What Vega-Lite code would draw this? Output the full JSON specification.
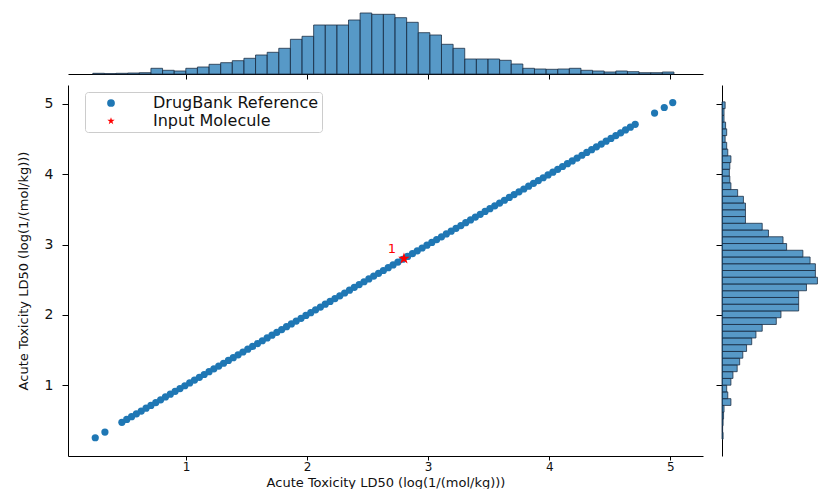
{
  "$schema": "https://vega.github.io/schema/vega-lite/v6.json",
  "padding": {"left": 17, "top": 7, "right": 0, "bottom": 0},
  "background": "white",
  "datasets": {
    "hist": [
      {"b0": 0.230, "b1": 0.326, "c": 7},
      {"b0": 0.326, "b1": 0.422, "c": 4},
      {"b0": 0.422, "b1": 0.518, "c": 7},
      {"b0": 0.518, "b1": 0.614, "c": 10},
      {"b0": 0.614, "b1": 0.710, "c": 13},
      {"b0": 0.710, "b1": 0.806, "c": 57},
      {"b0": 0.806, "b1": 0.902, "c": 37},
      {"b0": 0.902, "b1": 0.998, "c": 30},
      {"b0": 0.998, "b1": 1.094, "c": 57},
      {"b0": 1.094, "b1": 1.190, "c": 70},
      {"b0": 1.190, "b1": 1.286, "c": 97},
      {"b0": 1.286, "b1": 1.382, "c": 113},
      {"b0": 1.382, "b1": 1.478, "c": 133},
      {"b0": 1.478, "b1": 1.574, "c": 157},
      {"b0": 1.574, "b1": 1.670, "c": 190},
      {"b0": 1.670, "b1": 1.766, "c": 217},
      {"b0": 1.766, "b1": 1.862, "c": 257},
      {"b0": 1.862, "b1": 1.958, "c": 347},
      {"b0": 1.958, "b1": 2.054, "c": 377},
      {"b0": 2.054, "b1": 2.150, "c": 490},
      {"b0": 2.150, "b1": 2.246, "c": 490},
      {"b0": 2.246, "b1": 2.342, "c": 490},
      {"b0": 2.342, "b1": 2.438, "c": 540},
      {"b0": 2.438, "b1": 2.534, "c": 610},
      {"b0": 2.534, "b1": 2.630, "c": 597},
      {"b0": 2.630, "b1": 2.726, "c": 597},
      {"b0": 2.726, "b1": 2.822, "c": 563},
      {"b0": 2.822, "b1": 2.918, "c": 517},
      {"b0": 2.918, "b1": 3.014, "c": 413},
      {"b0": 3.014, "b1": 3.110, "c": 390},
      {"b0": 3.110, "b1": 3.206, "c": 297},
      {"b0": 3.206, "b1": 3.302, "c": 257},
      {"b0": 3.302, "b1": 3.398, "c": 150},
      {"b0": 3.398, "b1": 3.494, "c": 150},
      {"b0": 3.494, "b1": 3.590, "c": 150},
      {"b0": 3.590, "b1": 3.686, "c": 137},
      {"b0": 3.686, "b1": 3.782, "c": 100},
      {"b0": 3.782, "b1": 3.878, "c": 57},
      {"b0": 3.878, "b1": 3.974, "c": 50},
      {"b0": 3.974, "b1": 4.070, "c": 47},
      {"b0": 4.070, "b1": 4.166, "c": 50},
      {"b0": 4.166, "b1": 4.262, "c": 57},
      {"b0": 4.262, "b1": 4.358, "c": 37},
      {"b0": 4.358, "b1": 4.454, "c": 30},
      {"b0": 4.454, "b1": 4.550, "c": 20},
      {"b0": 4.550, "b1": 4.646, "c": 30},
      {"b0": 4.646, "b1": 4.742, "c": 23},
      {"b0": 4.742, "b1": 4.838, "c": 13},
      {"b0": 4.838, "b1": 4.934, "c": 13},
      {"b0": 4.934, "b1": 5.030, "c": 20}
    ],
    "pts": [
      {"x": 0.25, "y": 0.25, "series": "DrugBank Reference"},
      {"x": 0.33, "y": 0.33, "series": "DrugBank Reference"},
      {"x": 0.47, "y": 0.47, "series": "DrugBank Reference"},
      {"x": 0.51, "y": 0.51, "series": "DrugBank Reference"},
      {"x": 0.55, "y": 0.55, "series": "DrugBank Reference"},
      {"x": 0.59, "y": 0.59, "series": "DrugBank Reference"},
      {"x": 0.63, "y": 0.63, "series": "DrugBank Reference"},
      {"x": 0.67, "y": 0.67, "series": "DrugBank Reference"},
      {"x": 0.71, "y": 0.71, "series": "DrugBank Reference"},
      {"x": 0.75, "y": 0.75, "series": "DrugBank Reference"},
      {"x": 0.79, "y": 0.79, "series": "DrugBank Reference"},
      {"x": 0.83, "y": 0.83, "series": "DrugBank Reference"},
      {"x": 0.87, "y": 0.87, "series": "DrugBank Reference"},
      {"x": 0.91, "y": 0.91, "series": "DrugBank Reference"},
      {"x": 0.95, "y": 0.95, "series": "DrugBank Reference"},
      {"x": 0.99, "y": 0.99, "series": "DrugBank Reference"},
      {"x": 1.03, "y": 1.03, "series": "DrugBank Reference"},
      {"x": 1.07, "y": 1.07, "series": "DrugBank Reference"},
      {"x": 1.11, "y": 1.11, "series": "DrugBank Reference"},
      {"x": 1.15, "y": 1.15, "series": "DrugBank Reference"},
      {"x": 1.19, "y": 1.19, "series": "DrugBank Reference"},
      {"x": 1.23, "y": 1.23, "series": "DrugBank Reference"},
      {"x": 1.27, "y": 1.27, "series": "DrugBank Reference"},
      {"x": 1.31, "y": 1.31, "series": "DrugBank Reference"},
      {"x": 1.35, "y": 1.35, "series": "DrugBank Reference"},
      {"x": 1.39, "y": 1.39, "series": "DrugBank Reference"},
      {"x": 1.43, "y": 1.43, "series": "DrugBank Reference"},
      {"x": 1.47, "y": 1.47, "series": "DrugBank Reference"},
      {"x": 1.51, "y": 1.51, "series": "DrugBank Reference"},
      {"x": 1.55, "y": 1.55, "series": "DrugBank Reference"},
      {"x": 1.59, "y": 1.59, "series": "DrugBank Reference"},
      {"x": 1.63, "y": 1.63, "series": "DrugBank Reference"},
      {"x": 1.67, "y": 1.67, "series": "DrugBank Reference"},
      {"x": 1.71, "y": 1.71, "series": "DrugBank Reference"},
      {"x": 1.75, "y": 1.75, "series": "DrugBank Reference"},
      {"x": 1.79, "y": 1.79, "series": "DrugBank Reference"},
      {"x": 1.83, "y": 1.83, "series": "DrugBank Reference"},
      {"x": 1.87, "y": 1.87, "series": "DrugBank Reference"},
      {"x": 1.91, "y": 1.91, "series": "DrugBank Reference"},
      {"x": 1.95, "y": 1.95, "series": "DrugBank Reference"},
      {"x": 1.99, "y": 1.99, "series": "DrugBank Reference"},
      {"x": 2.03, "y": 2.03, "series": "DrugBank Reference"},
      {"x": 2.07, "y": 2.07, "series": "DrugBank Reference"},
      {"x": 2.11, "y": 2.11, "series": "DrugBank Reference"},
      {"x": 2.15, "y": 2.15, "series": "DrugBank Reference"},
      {"x": 2.19, "y": 2.19, "series": "DrugBank Reference"},
      {"x": 2.23, "y": 2.23, "series": "DrugBank Reference"},
      {"x": 2.27, "y": 2.27, "series": "DrugBank Reference"},
      {"x": 2.31, "y": 2.31, "series": "DrugBank Reference"},
      {"x": 2.35, "y": 2.35, "series": "DrugBank Reference"},
      {"x": 2.39, "y": 2.39, "series": "DrugBank Reference"},
      {"x": 2.43, "y": 2.43, "series": "DrugBank Reference"},
      {"x": 2.47, "y": 2.47, "series": "DrugBank Reference"},
      {"x": 2.51, "y": 2.51, "series": "DrugBank Reference"},
      {"x": 2.55, "y": 2.55, "series": "DrugBank Reference"},
      {"x": 2.59, "y": 2.59, "series": "DrugBank Reference"},
      {"x": 2.63, "y": 2.63, "series": "DrugBank Reference"},
      {"x": 2.67, "y": 2.67, "series": "DrugBank Reference"},
      {"x": 2.71, "y": 2.71, "series": "DrugBank Reference"},
      {"x": 2.75, "y": 2.75, "series": "DrugBank Reference"},
      {"x": 2.79, "y": 2.79, "series": "DrugBank Reference"},
      {"x": 2.83, "y": 2.83, "series": "DrugBank Reference"},
      {"x": 2.87, "y": 2.87, "series": "DrugBank Reference"},
      {"x": 2.91, "y": 2.91, "series": "DrugBank Reference"},
      {"x": 2.95, "y": 2.95, "series": "DrugBank Reference"},
      {"x": 2.99, "y": 2.99, "series": "DrugBank Reference"},
      {"x": 3.03, "y": 3.03, "series": "DrugBank Reference"},
      {"x": 3.07, "y": 3.07, "series": "DrugBank Reference"},
      {"x": 3.11, "y": 3.11, "series": "DrugBank Reference"},
      {"x": 3.15, "y": 3.15, "series": "DrugBank Reference"},
      {"x": 3.19, "y": 3.19, "series": "DrugBank Reference"},
      {"x": 3.23, "y": 3.23, "series": "DrugBank Reference"},
      {"x": 3.27, "y": 3.27, "series": "DrugBank Reference"},
      {"x": 3.31, "y": 3.31, "series": "DrugBank Reference"},
      {"x": 3.35, "y": 3.35, "series": "DrugBank Reference"},
      {"x": 3.39, "y": 3.39, "series": "DrugBank Reference"},
      {"x": 3.43, "y": 3.43, "series": "DrugBank Reference"},
      {"x": 3.47, "y": 3.47, "series": "DrugBank Reference"},
      {"x": 3.51, "y": 3.51, "series": "DrugBank Reference"},
      {"x": 3.55, "y": 3.55, "series": "DrugBank Reference"},
      {"x": 3.59, "y": 3.59, "series": "DrugBank Reference"},
      {"x": 3.63, "y": 3.63, "series": "DrugBank Reference"},
      {"x": 3.67, "y": 3.67, "series": "DrugBank Reference"},
      {"x": 3.71, "y": 3.71, "series": "DrugBank Reference"},
      {"x": 3.75, "y": 3.75, "series": "DrugBank Reference"},
      {"x": 3.79, "y": 3.79, "series": "DrugBank Reference"},
      {"x": 3.83, "y": 3.83, "series": "DrugBank Reference"},
      {"x": 3.87, "y": 3.87, "series": "DrugBank Reference"},
      {"x": 3.91, "y": 3.91, "series": "DrugBank Reference"},
      {"x": 3.95, "y": 3.95, "series": "DrugBank Reference"},
      {"x": 3.99, "y": 3.99, "series": "DrugBank Reference"},
      {"x": 4.03, "y": 4.03, "series": "DrugBank Reference"},
      {"x": 4.07, "y": 4.07, "series": "DrugBank Reference"},
      {"x": 4.11, "y": 4.11, "series": "DrugBank Reference"},
      {"x": 4.15, "y": 4.15, "series": "DrugBank Reference"},
      {"x": 4.19, "y": 4.19, "series": "DrugBank Reference"},
      {"x": 4.23, "y": 4.23, "series": "DrugBank Reference"},
      {"x": 4.27, "y": 4.27, "series": "DrugBank Reference"},
      {"x": 4.31, "y": 4.31, "series": "DrugBank Reference"},
      {"x": 4.35, "y": 4.35, "series": "DrugBank Reference"},
      {"x": 4.39, "y": 4.39, "series": "DrugBank Reference"},
      {"x": 4.43, "y": 4.43, "series": "DrugBank Reference"},
      {"x": 4.47, "y": 4.47, "series": "DrugBank Reference"},
      {"x": 4.51, "y": 4.51, "series": "DrugBank Reference"},
      {"x": 4.55, "y": 4.55, "series": "DrugBank Reference"},
      {"x": 4.59, "y": 4.59, "series": "DrugBank Reference"},
      {"x": 4.63, "y": 4.63, "series": "DrugBank Reference"},
      {"x": 4.67, "y": 4.67, "series": "DrugBank Reference"},
      {"x": 4.71, "y": 4.71, "series": "DrugBank Reference"},
      {"x": 4.87, "y": 4.87, "series": "DrugBank Reference"},
      {"x": 4.95, "y": 4.95, "series": "DrugBank Reference"},
      {"x": 5.02, "y": 5.02, "series": "DrugBank Reference"}
    ],
    "mol": [
      {"x": 2.8, "y": 2.8, "series": "Input Molecule", "label": "1"}
    ],
    "blank": [
      {"a": 1}
    ]
  },
  "columns": 2,
  "align": "each",
  "bounds": "flush",
  "spacing": {"row": 11, "column": 19},
  "concat": [
    {
      "width": 635,
      "height": 64,
      "data": {"name": "hist"},
      "mark": {"type": "rect", "fill": "#1f77b4", "fillOpacity": 0.75, "stroke": "#1d2f44", "strokeWidth": 0.8},
      "encoding": {
        "x": {"field": "b0", "type": "quantitative", "scale": {"domain": [0.025, 5.27], "nice": false, "zero": false},
              "axis": {"values": [1, 2, 3, 4, 5], "labels": false, "title": null, "tickSize": 5, "grid": false}},
        "x2": {"field": "b1"},
        "y": {"field": "c", "type": "quantitative", "scale": {"domain": [0, 640], "nice": false}, "axis": null},
        "y2": {"datum": 0}
      }
    },
    {
      "width": 97,
      "height": 64,
      "data": {"name": "blank"},
      "mark": {"type": "point", "opacity": 0},
      "encoding": {
        "x": {"field": "a", "type": "quantitative", "axis": null},
        "y": {"field": "a", "type": "quantitative", "axis": null}
      }
    },
    {
      "width": 635,
      "height": 371,
      "layer": [
        {
          "data": {"name": "pts"},
          "mark": {"type": "point", "filled": true, "size": 52, "opacity": 1},
          "encoding": {
            "x": {"field": "x", "type": "quantitative", "scale": {"domain": [0.025, 5.27], "nice": false, "zero": false},
                  "axis": {"values": [1, 2, 3, 4, 5], "format": "d", "title": "Acute Toxicity LD50 (log(1/(mol/kg)))", "tickSize": 4, "labelPadding": 1, "labelFontSize": 12, "titleFontSize": 13, "titleBaseline": "top", "titleY": 20, "grid": false}},
            "y": {"field": "y", "type": "quantitative", "scale": {"domain": [-0.01, 5.27], "nice": false, "zero": false},
                  "axis": {"values": [1, 2, 3, 4, 5], "format": "d", "title": "Acute Toxicity LD50 (log(1/(mol/kg)))", "tickSize": 6, "labelPadding": 9, "labelFontSize": 14, "titleFontSize": 13, "titlePadding": 14, "grid": false}},
            "color": {"field": "series", "type": "nominal",
                      "scale": {"domain": ["DrugBank Reference", "Input Molecule"], "range": ["#1f77b4", "#ff0000"]},
                      "legend": {"title": null, "orient": "none", "legendX": 17, "legendY": 82, "padding": 3, "symbolOffset": 15, "labelOffset": 34, "labelFontSize": 16, "labelLimit": 400, "rowPadding": 2, "symbolSize": 60, "symbolOpacity": 1, "symbolStrokeWidth": 0, "strokeColor": "#cccccc", "fillColor": "white", "cornerRadius": 3}},
            "shape": {"field": "series", "type": "nominal",
                      "scale": {"domain": ["DrugBank Reference", "Input Molecule"], "range": ["circle", "M0,-1L0.2245,-0.309L0.9511,-0.309L0.3633,0.118L0.5878,0.809L0,0.382L-0.5878,0.809L-0.3633,0.118L-0.9511,-0.309L-0.2245,-0.309Z"]},
                      "legend": {"title": null, "orient": "none", "legendX": 17, "legendY": 82, "padding": 3, "symbolOffset": 15, "labelOffset": 34, "labelFontSize": 16, "labelLimit": 400, "rowPadding": 2, "symbolSize": 60, "symbolOpacity": 1, "symbolStrokeWidth": 0, "strokeColor": "#cccccc", "fillColor": "white", "cornerRadius": 3}}
          }
        },
        {
          "data": {"name": "mol"},
          "mark": {"type": "point", "filled": true, "size": 150, "opacity": 1},
          "encoding": {
            "x": {"field": "x", "type": "quantitative"},
            "y": {"field": "y", "type": "quantitative"},
            "color": {"field": "series", "type": "nominal"},
            "shape": {"field": "series", "type": "nominal"}
          }
        },
        {
          "data": {"name": "mol"},
          "mark": {"type": "text", "color": "#ff0000", "fontSize": 13, "dx": -12, "dy": -10, "font": "DejaVu Sans"},
          "encoding": {
            "x": {"field": "x", "type": "quantitative"},
            "y": {"field": "y", "type": "quantitative"},
            "text": {"field": "label"}
          }
        }
      ]
    },
    {
      "width": 97,
      "height": 371,
      "data": {"name": "hist"},
      "mark": {"type": "rect", "fill": "#1f77b4", "fillOpacity": 0.75, "stroke": "#1d2f44", "strokeWidth": 0.8},
      "encoding": {
        "y": {"field": "b0", "type": "quantitative", "scale": {"domain": [-0.01, 5.27], "nice": false, "zero": false},
              "axis": {"values": [1, 2, 3, 4, 5], "labels": false, "title": null, "tickSize": 6, "grid": false}},
        "y2": {"field": "b1"},
        "x": {"field": "c", "type": "quantitative", "scale": {"domain": [0, 620], "nice": false}, "axis": null},
        "x2": {"datum": 0}
      }
    }
  ],
  "config": {
    "view": {"stroke": null},
    "font": "DejaVu Sans",
    "axis": {
      "domainColor": "#000000",
      "domainWidth": 1,
      "tickColor": "#000000",
      "tickWidth": 1,
      "labelColor": "#111111",
      "titleColor": "#111111",
      "titleFontWeight": "normal"
    },
    "legend": {"labelColor": "#111111"}
  }
}
